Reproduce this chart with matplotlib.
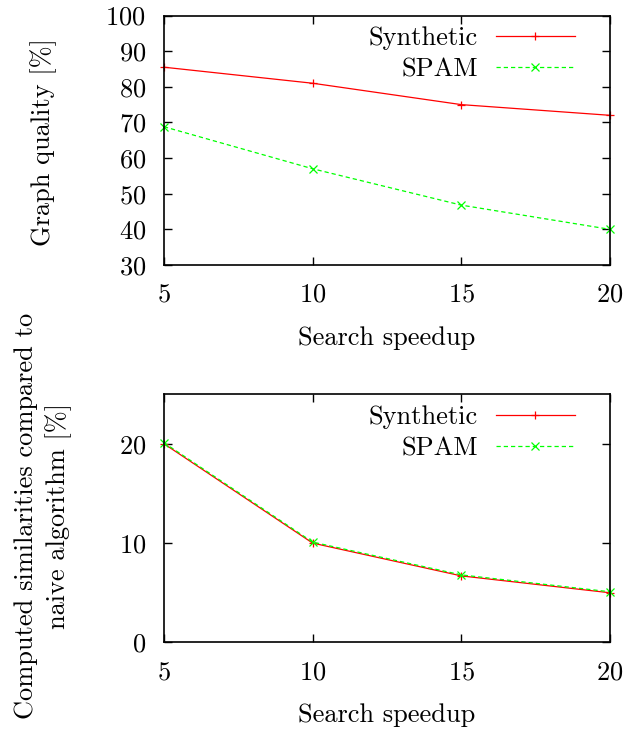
#!/usr/bin/env python3

import matplotlib

matplotlib.use("Agg")

import matplotlib.pyplot as plt

speedup = [5, 10, 15, 20]

quality_synthetic = [85.5, 81, 75, 72]
quality_spam = [68.8, 57, 46.8, 40]

similar_synthetic = [20, 10.0, 6.7, 5.0]
similar_spam = [20.1, 10.1, 6.8, 5.1]

plt.rcParams["font.family"] = ["cmr10", "DejaVu Serif"]
plt.rcParams["mathtext.fontset"] = "cm"
plt.rcParams["axes.formatter.use_mathtext"] = True
plt.rcParams["font.size"] = 19

RED = "#ff0000"
GREEN = "#00ff00"


def style_axes(ax):
    ax.tick_params(axis="x", direction="in", top=True, length=6, width=1.0, pad=13)
    ax.tick_params(axis="y", direction="in", right=True, length=6, width=1.0, pad=13)
    for spine in ax.spines.values():
        spine.set_linewidth(1.2)
    ax.set_xlim(5, 20)
    ax.set_xticks(speedup)
    ax.set_xlabel("Search speedup", labelpad=14)


def add_series(ax, synthetic, spam):
    ax.plot(speedup, synthetic, color=RED, linewidth=0.9, marker="+",
            markersize=6, markeredgewidth=0.9, label="Synthetic", clip_on=False)
    ax.plot(speedup, spam, color=GREEN, linewidth=0.9, linestyle=(0, (3.4, 2.4)),
            marker="x", markersize=6, markeredgewidth=0.9, label="SPAM", clip_on=False)
    ax.legend(loc="upper right", frameon=False, markerfirst=False, handlelength=3.0,
              handletextpad=0.68, borderaxespad=0, borderpad=0, labelspacing=0.28,
              numpoints=1, bbox_to_anchor=(0.9215, 0.955))


fig = plt.figure(figsize=(6.41, 7.29), dpi=100)

ax1 = fig.add_axes([0.2558, 0.6365, 0.6958, 0.3422])
add_series(ax1, quality_synthetic, quality_spam)
style_axes(ax1)
ax1.set_ylim(30, 100)
ax1.set_yticks(range(30, 101, 10))
ax1.set_ylabel("Graph quality [%]")
ax1.yaxis.set_label_coords(-0.24, 0.493)

ax2 = fig.add_axes([0.2558, 0.1187, 0.6958, 0.3408])
add_series(ax2, similar_synthetic, similar_spam)
style_axes(ax2)
ax2.set_ylim(0, 25)
ax2.set_yticks([0, 10, 20])
ax2.set_ylabel("Computed similarities compared to\nnaive algorithm [%]", linespacing=1.38)
ax2.yaxis.set_label_coords(-0.206, 0.51)

fig.savefig("out.png", dpi=100, facecolor="white")
